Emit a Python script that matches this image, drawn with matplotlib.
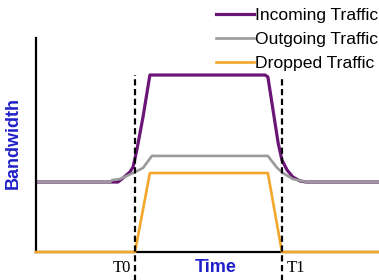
import matplotlib
matplotlib.use("Agg")
import matplotlib.pyplot as plt

# Time (arbitrary units, 0..10) and bandwidth (arbitrary units, 0..10)
incoming_t = [0.0, 2.39, 2.54, 2.74, 2.83, 2.94, 3.12, 3.32, 6.68, 6.76, 6.91, 7.06, 7.17, 7.32, 7.49, 7.70, 7.87, 10.0]
incoming_v = [3.27, 3.27, 3.46, 3.74, 3.97, 4.77, 6.31, 8.27, 8.27, 8.18, 6.64, 5.09, 4.30, 3.83, 3.50, 3.32, 3.27, 3.27]

outgoing_t = [0.0, 2.16, 2.22, 2.45, 2.83, 3.12, 3.38, 6.76, 7.03, 7.20, 7.49, 7.90, 10.0]
outgoing_v = [3.27, 3.27, 3.36, 3.41, 3.69, 3.93, 4.49, 4.49, 3.93, 3.69, 3.41, 3.27, 3.27]

dropped_t = [0.0, 2.886, 3.32, 6.76, 7.17, 10.0]
dropped_v = [0.0, 0.0, 3.69, 3.69, 0.0, 0.0]

event_t = [2.886, 7.17]
event_top = [8.27, 8.13]
event_labels = ["T0", "T1"]

series_labels = ["Incoming Traffic", "Outgoing Traffic", "Dropped Traffic"]
colors = ["#6b1577", "#9a9a9a", "#f2a62a"]

fig = plt.figure(figsize=(3.79, 2.80), dpi=100)
ax = fig.add_axes([36/379, 28/280, 343/379, 214/280])
ax.set_xlim(0, 10)
ax.set_ylim(0, 10)

l1, = ax.plot(incoming_t, incoming_v, color=colors[0], lw=2.3, zorder=2, solid_joinstyle='round')
l2, = ax.plot(outgoing_t, outgoing_v, color=colors[1], lw=1.9, zorder=2.2, solid_joinstyle='round')
l3, = ax.plot(dropped_t, dropped_v, color=colors[2], lw=1.9, zorder=3, clip_on=False)

for t, top in zip(event_t, event_top):
    ax.plot([t, t], [-1.35, top], color="black", lw=1.6, ls=(0, (2.8, 1.6)), zorder=4, clip_on=False)

for s in ["top", "right"]:
    ax.spines[s].set_visible(False)
for s in ["left", "bottom"]:
    ax.spines[s].set_linewidth(1.6)
    ax.spines[s].set_color("black")
ax.set_xticks([])
ax.set_yticks([])

blue = "#2020c8"
fig.text(216/379, 1 - 268/280, "Time", color=blue, fontsize=13, fontweight="bold",
         family="Liberation Sans", ha="center", va="center")
fig.text(13/379, 1 - 143/280, "Bandwidth", color=blue, fontsize=13, fontweight="bold",
         family="Liberation Sans", ha="center", va="center", rotation=90)

fig.text(122/379, 1 - 268/280, event_labels[0], fontsize=12, family="Liberation Serif",
         ha="center", va="center")
fig.text(296/379, 1 - 268/280, event_labels[1], fontsize=12, family="Liberation Serif",
         ha="center", va="center")

leg = fig.legend([l1, l2, l3], series_labels, loc="upper left",
                 bbox_to_anchor=(216/379, 1 - 8/280), frameon=False,
                 prop={"family": "Liberation Sans", "size": 12.6},
                 handlelength=2.15, handletextpad=0.1, labelspacing=0.5,
                 borderpad=0, borderaxespad=0)
leg.get_lines()[0].set_linewidth(2.3)

fig.savefig("out.png", dpi=100)
